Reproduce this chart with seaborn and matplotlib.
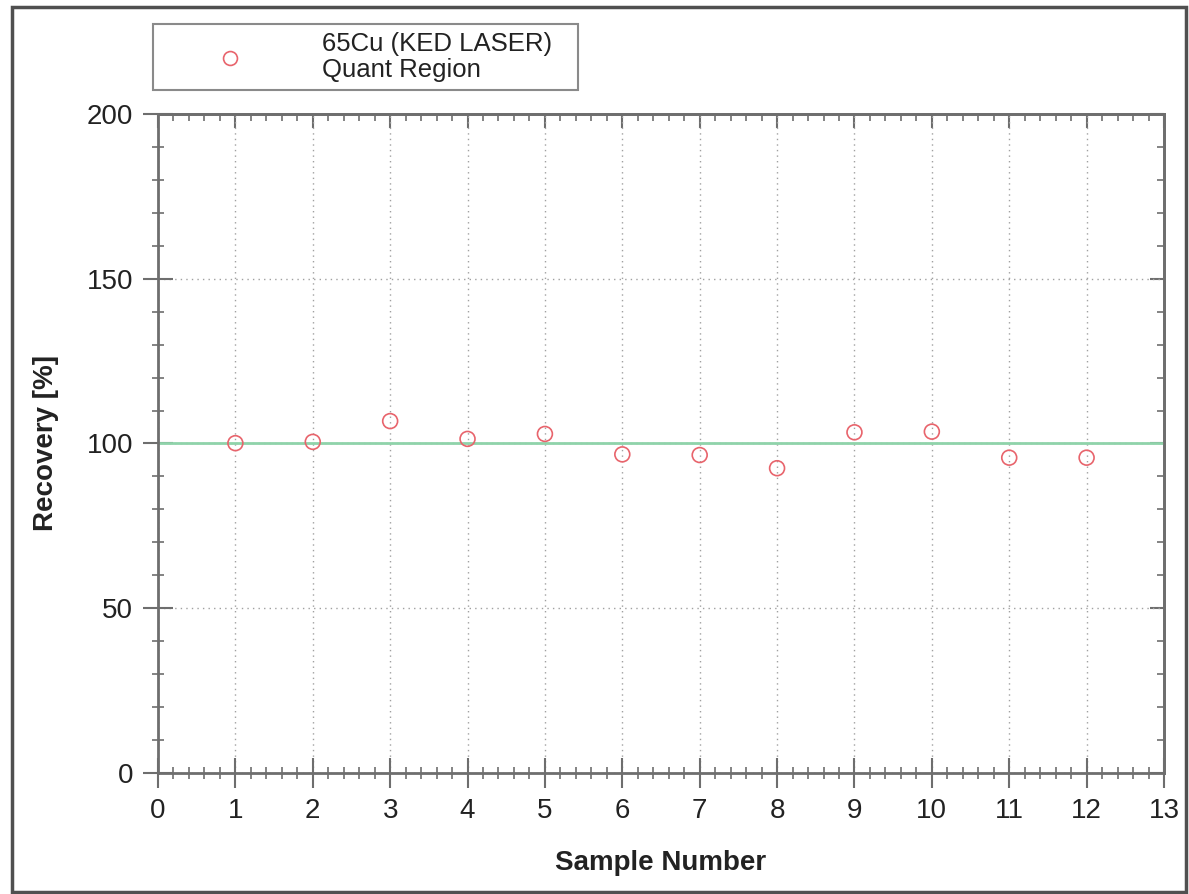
import matplotlib
matplotlib.use("Agg")
import matplotlib.pyplot as plt
from matplotlib.lines import Line2D
from matplotlib.patches import Rectangle
from matplotlib.ticker import MultipleLocator
import seaborn as sns
import pandas as pd

# Recovery results per sample
sample_number = [1, 2, 3, 4, 5, 6, 7, 8, 9, 10, 11, 12]
recovery_pct = [100.1, 100.5, 106.8, 101.4, 102.9, 96.7, 96.5, 92.5, 103.4, 103.6, 95.7, 95.7]
target_recovery = 100
series_label = "65Cu (KED LASER)\nQuant Region"
x_label = "Sample Number"
y_label = "Recovery [%]"

W, H = 1189, 894
sns.set_theme(style="white")
plt.rcParams["font.family"] = ["Liberation Sans", "DejaVu Sans"]

red = "#e8646c"
green = "#8fd3aa"
spine_col = "#6e6e6e"
text_col = "#222222"

fig = plt.figure(figsize=(W / 100, H / 100), dpi=100)
ax = fig.add_axes([158 / W, 1 - 773 / H, (1164 - 158) / W, (773 - 114) / H])

df = pd.DataFrame({"sample": sample_number, "recovery": recovery_pct})

ax.axhline(target_recovery, color=green, lw=2, zorder=2)
sns.scatterplot(data=df, x="sample", y="recovery", ax=ax, marker="o", s=115,
                facecolors="none", edgecolor=red, linewidth=1.2, zorder=3,
                legend=False)

ax.set_xlim(0, 13)
ax.set_ylim(0, 200)
ax.xaxis.set_major_locator(MultipleLocator(1))
ax.xaxis.set_minor_locator(MultipleLocator(0.2))
ax.yaxis.set_major_locator(MultipleLocator(50))
ax.yaxis.set_minor_locator(MultipleLocator(10))

ax.grid(True, which="major", linestyle=(0, (1, 3)), color="#a0a0a0", lw=1)
for s in ax.spines.values():
    s.set_color(spine_col)
    s.set_linewidth(2)

ax.tick_params(which="both", bottom=True, left=True, top=False, right=False)
ax.tick_params(which="major", direction="inout", length=22, width=1.5,
               color=spine_col, labelsize=20, labelcolor=text_col, pad=7)
ax.tick_params(which="minor", direction="inout", length=9, width=1.2, color=spine_col)

# inward ticks along the top and right edges
top = ax.secondary_xaxis("top")
top.xaxis.set_major_locator(MultipleLocator(1))
top.xaxis.set_minor_locator(MultipleLocator(0.2))
top.tick_params(which="both", top=True)
top.tick_params(which="major", direction="in", length=10, width=1.5, color=spine_col, labeltop=False)
top.tick_params(which="minor", direction="in", length=5, width=1.2, color=spine_col)
top.spines["top"].set_color(spine_col)
top.spines["top"].set_linewidth(2)
right = ax.secondary_yaxis("right")
right.yaxis.set_major_locator(MultipleLocator(50))
right.yaxis.set_minor_locator(MultipleLocator(10))
right.tick_params(which="both", right=True)
right.tick_params(which="major", direction="in", length=10, width=1.5, color=spine_col, labelright=False)
right.tick_params(which="minor", direction="in", length=5, width=1.2, color=spine_col)
right.spines["right"].set_color(spine_col)
right.spines["right"].set_linewidth(2)

ax.set_xlabel(x_label, fontsize=20, fontweight="bold", color=text_col, labelpad=19)
ax.set_ylabel(y_label, fontsize=20, fontweight="bold", color=text_col, labelpad=20)

# legend box
fig.add_artist(Rectangle((153 / W, 1 - 90 / H), (578 - 153) / W, (90 - 24) / H,
                         transform=fig.transFigure, fill=False,
                         edgecolor="#8a8a8a", lw=1.5))
fig.add_artist(Line2D([230 / W], [1 - 58 / H], transform=fig.transFigure,
                      marker="o", ls="", ms=10, mfc="none", mec=red, mew=1.2))
fig.text(322 / W, 1 - 32 / H, series_label, fontsize=18.5, color=text_col,
         va="top", ha="left", linespacing=1.08)

# outer frame
fig.add_artist(Rectangle((12 / W, 1 - 892 / H), (1186 - 12) / W, (892 - 7) / H,
                         transform=fig.transFigure, fill=False,
                         edgecolor="#505050", lw=2.5))

fig.savefig("out.png", dpi=100)
